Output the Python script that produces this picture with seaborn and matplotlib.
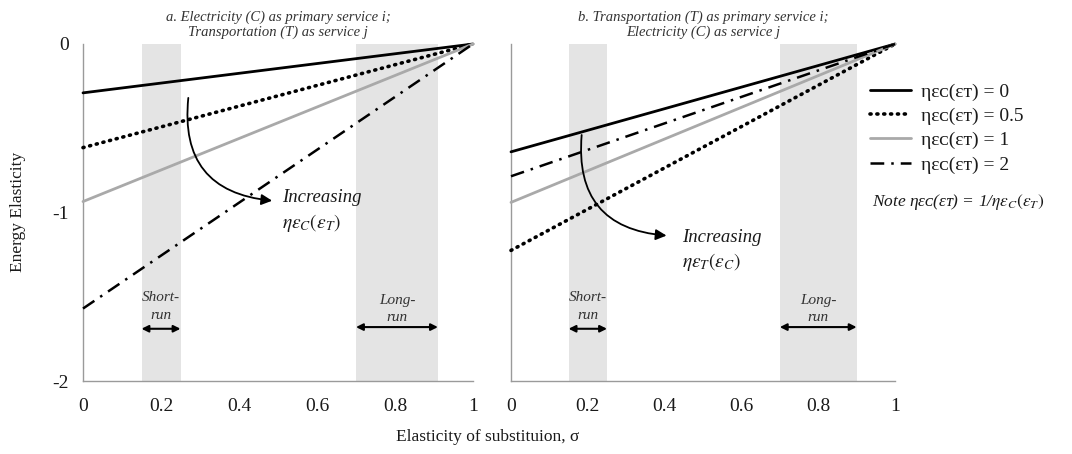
import numpy as np
import pandas as pd
import matplotlib
matplotlib.use("Agg")
import matplotlib.pyplot as plt
from matplotlib.lines import Line2D
import seaborn as sns

# ---------------- data ----------------
sigma = [0.0, 1.0]
series_labels = ["ηεᴄ(εᴛ) = 0", "ηεᴄ(εᴛ) = 0.5", "ηεᴄ(εᴛ) = 1", "ηεᴄ(εᴛ) = 2"]
# panel a: Electricity (C) primary service i
a_eta0 = [-0.29, 0.0]
a_eta05 = [-0.615, 0.0]
a_eta1 = [-0.935, 0.0]
a_eta2 = [-1.57, 0.0]
# panel b: Transportation (T) primary service i
b_eta0 = [-0.64, 0.0]
b_eta05 = [-1.225, 0.0]
b_eta1 = [-0.94, 0.0]
b_eta2 = [-0.785, 0.0]

short_run = [0.15, 0.25]
long_run_a = [0.70, 0.91]
long_run_b = [0.70, 0.90]

x_ticks = [0, 0.1, 0.2, 0.3, 0.4, 0.5, 0.6, 0.7, 0.8, 0.9, 1.0]
x_ticklabels = ["0", "", "0.2", "", "0.4", "", "0.6", "", "0.8", "", "1"]
y_ticks = [0, -0.5, -1, -1.5, -2]
y_ticklabels = ["0", "", "-1", "", "-2"]

titles = ["a. Electricity (C) as primary service i;\nTransportation (T) as service j",
          "b. Transportation (T) as primary service i;\nElectricity (C) as service j"]

# ---------------- style ----------------
sns.set_theme(style="white")
plt.rcParams["font.family"] = ["Liberation Serif", "DejaVu Serif"]
plt.rcParams["mathtext.fontset"] = "stix"
plt.rcParams["text.color"] = "#1a1a1a"

styles = [
    dict(color="black", lw=2.0, linestyle="-"),
    dict(color="black", lw=2.6, linestyle=(0, (0.3, 1.6)), dash_capstyle="round"),
    dict(color="#a9a9a9", lw=2.0, linestyle="-"),
    dict(color="black", lw=1.8, linestyle=(0, (5.5, 2.8, 1.0, 2.8))),
]

fig = plt.figure(figsize=(10.72, 4.54), dpi=100)
ax1 = fig.add_axes([83 / 1072, 1 - 381 / 454, 390 / 1072, 337 / 454])
ax2 = fig.add_axes([511 / 1072, 1 - 381 / 454, 384 / 1072, 337 / 454])

panels = [
    (ax1, [a_eta0, a_eta05, a_eta1, a_eta2], long_run_a),
    (ax2, [b_eta0, b_eta05, b_eta1, b_eta2], long_run_b),
]

for i, (ax, ys, lr) in enumerate(panels):
    ax.axvspan(short_run[0], short_run[1], ymin=0, ymax=1, color="#e4e4e4", lw=0, zorder=0)
    ax.axvspan(lr[0], lr[1], ymin=0, ymax=1, color="#e4e4e4", lw=0, zorder=0)
    for y, st in zip(ys, styles):
        df = pd.DataFrame({"sigma": sigma, "e": y})
        sns.lineplot(data=df, x="sigma", y="e", ax=ax, clip_on=False, zorder=3, **st)
    ax.set_xlim(0, 1)
    ax.set_ylim(-2, 0)
    ax.set_xticks(x_ticks)
    ax.set_xticklabels(x_ticklabels)
    ax.set_yticks(y_ticks)
    ax.set_yticklabels(y_ticklabels if i == 0 else [""] * len(y_ticks))
    ax.set_xlabel("")
    ax.set_ylabel("")
    for s in ["top", "right"]:
        ax.spines[s].set_visible(False)
    for s in ["left", "bottom"]:
        ax.spines[s].set_color("#9a9a9a")
        ax.spines[s].set_linewidth(1.0)
    ax.tick_params(axis="both", direction="out", length=4, width=1.0, color="#9a9a9a",
                   labelsize=14, labelcolor="#1a1a1a", pad=8)
    ax.tick_params(axis="y", pad=6)
    ax.set_title(titles[i], fontsize=10.5, style="italic", pad=6, linespacing=1.15,
                 color="#333333")

    # short-run / long-run annotations
    cx = np.mean(short_run)
    ax.text(cx, -1.505, "Short-", ha="center", va="center", fontsize=11, style="italic", color="#333333")
    ax.text(cx, -1.61, "run", ha="center", va="center", fontsize=11, style="italic", color="#333333")
    ax.annotate("", xy=(short_run[0], -1.69), xytext=(short_run[1], -1.69),
                arrowprops=dict(arrowstyle="<|-|>", color="black", lw=1.5,
                                mutation_scale=10, shrinkA=0, shrinkB=0))
    lx = np.mean(lr)
    ax.text(lx, -1.52, "Long-", ha="center", va="center", fontsize=11, style="italic", color="#333333")
    ax.text(lx, -1.625, "run", ha="center", va="center", fontsize=11, style="italic", color="#333333")
    ax.annotate("", xy=(lr[0], -1.68), xytext=(lr[1], -1.68),
                arrowprops=dict(arrowstyle="<|-|>", color="black", lw=1.5,
                                mutation_scale=10, shrinkA=0, shrinkB=0))

# curved arrows and "Increasing" labels
ax1.annotate("", xy=(0.485, -0.93), xytext=(0.27, -0.32),
             arrowprops=dict(arrowstyle="-|>", color="black", lw=1.3, mutation_scale=16,
                             connectionstyle="arc3,rad=0.5", shrinkA=0, shrinkB=0))
ax1.text(0.51, -0.91, "Increasing", ha="left", va="center", fontsize=13.5, style="italic")
ax1.text(0.51, -1.06, r"$\eta\varepsilon_C(\varepsilon_T)$", ha="left", va="center", fontsize=14)

ax2.annotate("", xy=(0.405, -1.137), xytext=(0.184, -0.54),
             arrowprops=dict(arrowstyle="-|>", color="black", lw=1.3, mutation_scale=16,
                             connectionstyle="arc3,rad=0.5", shrinkA=0, shrinkB=0))
ax2.text(0.445, -1.147, "Increasing", ha="left", va="center", fontsize=13.5, style="italic")
ax2.text(0.445, -1.295, r"$\eta\varepsilon_T(\varepsilon_C)$", ha="left", va="center", fontsize=14)

# axis labels
fig.text(18 / 1072, 1 - 212 / 454, "Energy Elasticity", rotation=90, ha="center", va="center",
         fontsize=12.5)
fig.text(488 / 1072, 1 - 437 / 454, "Elasticity of substituion, σ", ha="center", va="center",
         fontsize=12.5)

# legend
handles = [Line2D([0], [0], **st) for st in styles]
fig.legend(handles, series_labels, loc="upper left", bbox_to_anchor=(870 / 1072, 1 - 83 / 454),
           frameon=False, fontsize=14, handlelength=2.1, handletextpad=0.5,
           labelspacing=0.34, borderpad=0, borderaxespad=0)

fig.text(872 / 1072, 1 - 202 / 454, "Note ηεᴄ(εᴛ) = 1/" + r"$\eta\varepsilon_C(\varepsilon_T)$",
         ha="left", va="center", fontsize=12.5, style="italic")

fig.savefig("out.png", dpi=100)
